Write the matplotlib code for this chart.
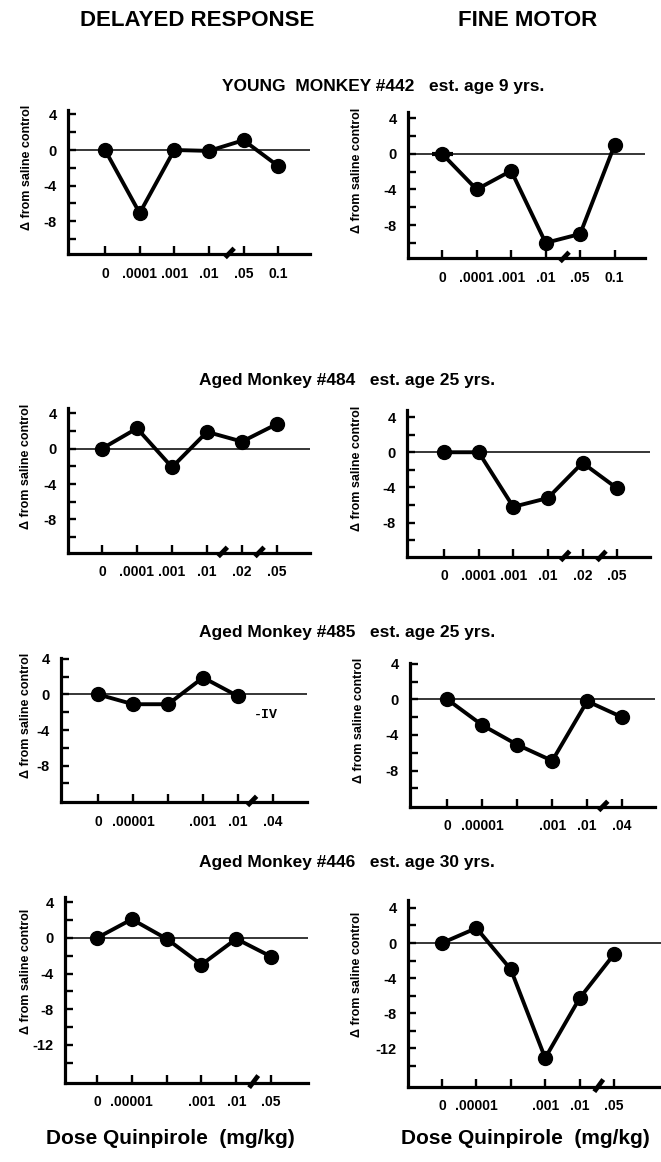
import matplotlib
matplotlib.use("Agg")
import matplotlib.pyplot as plt
import numpy as np
import matplotlib.transforms as mtransforms

plt.rcParams['font.family'] = ['Liberation Sans', 'DejaVu Sans']
plt.rcParams['font.weight'] = 'bold'

# ---------------- data ----------------
labels_442 = ['0', '.0001', '.001', '.01', '.05', '0.1']
labels_484 = ['0', '.0001', '.001', '.01', '.02', '.05']
labels_485 = ['0', '.00001', '', '.001', '.01', '.04']
labels_446 = ['0', '.00001', '', '.001', '.01', '.05']

dr_442 = [0, -7.1, 0, -0.1, 1.1, -1.8]
fm_442 = [0, -4.0, -1.9, -10.0, -9.0, 1.0]
dr_484 = [0, 2.3, -2.1, 1.9, 0.8, 2.8]
fm_484 = [0, 0, -6.2, -5.2, -1.2, -4.1]
dr_485 = [0, -1.1, -1.1, 1.9, -0.2]
fm_485 = [0, -2.9, -5.1, -6.9, -0.2, -2.0]
dr_446 = [0, 2.1, -0.1, -3.0, -0.1, -2.1]
fm_446 = [0, 1.7, -3.0, -13.1, -6.3, -1.3]

group_titles = ['YOUNG  MONKEY #442   est. age 9 yrs.',
                'Aged Monkey #484   est. age 25 yrs.',
                'Aged Monkey #485   est. age 25 yrs.',
                'Aged Monkey #446   est. age 30 yrs.']
col_titles = ['DELAYED RESPONSE', 'FINE MOTOR']
xlabel_text = 'Dose Quinpirole  (mg/kg)'
ylabel_text = '\u0394 from saline control'

W, H = 661, 1162
fig = plt.figure(figsize=(W / 100, H / 100), dpi=100)

def px_axes(left, right, top, bottom):
    return fig.add_axes([left / W, 1 - bottom / H, (right - left) / W, (bottom - top) / H])

# panel specs: (values, labels, box px, xlim, ylim, breaks, ylabel_x_px)
panels = [
    (dr_442, labels_442, (68, 310, 110, 254), (-1.07, 5.92), (-11.7, 4.5), [3.6], 33),
    (fm_442, labels_442, (408, 645, 112, 258), (-0.99, 5.88), (-11.7, 4.7), [3.55], 363),
    (dr_484, labels_484, (68, 310, 408, 553), (-0.97, 5.94), (-11.8, 4.6), [3.45, 4.5], 32),
    (fm_484, labels_484, (407, 650, 410, 557), (-1.07, 5.95), (-11.9, 4.8), [3.5, 4.55], 363),
    (dr_485, labels_485, (61, 307, 658, 802), (-1.06, 5.97), (-12.1, 4.1), [4.4], 32),
    (fm_485, labels_485, (410, 655, 663, 807), (-1.07, 5.94), (-12.1, 4.1), [4.46], 365),
    (dr_446, labels_446, (65, 308, 897, 1083), (-0.92, 6.06), (-16.3, 4.6), [4.5], 32),
    (fm_446, labels_446, (408, 661, 900, 1087), (-0.99, 6.37), (-16.4, 4.9), [4.56], 363),
]

axes = []
for i, (vals, labs, box, xl, yl, breaks, ylx) in enumerate(panels):
    left, right, top, bottom = box
    ax = px_axes(left, right, top, bottom)
    axes.append(ax)
    x = np.arange(len(vals))
    ax.axhline(0, color='black', lw=1.1, zorder=1)
    ax.plot(x, vals, color='black', lw=2.8, marker='o', markersize=10,
            markerfacecolor='black', zorder=3, clip_on=False)
    ax.set_xlim(*xl)
    ax.set_ylim(*yl)
    for s in ['top', 'right']:
        ax.spines[s].set_visible(False)
    for s in ['left', 'bottom']:
        ax.spines[s].set_linewidth(2.3)
    ax.set_xticks(np.arange(len(labs)))
    ax.set_xticklabels(labs, fontsize=10, fontweight='bold')
    lo = int(np.ceil(yl[0] / 2.0)) * 2
    hi = int(np.floor(yl[1] / 2.0)) * 2
    ticks_all = [t for t in range(lo, hi + 1, 2) if t > yl[0] + 0.5]
    major = [t for t in ticks_all if t % 4 == 0]
    minor = [t for t in ticks_all if t % 4 != 0]
    ax.set_yticks(major)
    ax.set_yticks(minor, minor=True)
    ax.set_yticklabels([str(t) for t in major], fontsize=10.5, fontweight='bold')
    ax.tick_params(axis='both', which='both', direction='in', length=6, width=1.7)
    ax.tick_params(axis='x', pad=9)
    ax.tick_params(axis='y', pad=8)
    ax.set_ylabel(ylabel_text, fontsize=9, fontweight='bold')
    ax.yaxis.set_label_coords(-(left - ylx) / (right - left), 0.6)
    trans = mtransforms.blended_transform_factory(ax.transData, ax.transAxes)
    for b in breaks:
        ax.plot([b - 0.13, b + 0.13], [-0.025, 0.04], color='black', lw=3.4,
                transform=trans, clip_on=False, solid_capstyle='butt', zorder=4)

# little horizontal bar at the first point of the young fine-motor panel
axes[1].errorbar([0], [fm_442[0]], xerr=[0.3], fmt='none', ecolor='black',
                 elinewidth=3.0, capsize=0, zorder=3)

# -IV annotation
axes[4].text(4.8, -2.3, '-IV', fontsize=9.5, fontweight='bold',
             family=['Liberation Mono', 'DejaVu Sans Mono'], ha='center', va='center')

# column titles
fig.text(197 / W, 1 - 20 / H, col_titles[0], fontsize=16, fontweight='bold', ha='center', va='center')
fig.text(528 / W, 1 - 20 / H, col_titles[1], fontsize=16, fontweight='bold', ha='center', va='center')

# group titles
title_pos = [(383, 86), (347, 380), (347, 632), (347, 863)]
for t, (tx, ty) in zip(group_titles, title_pos):
    fig.text(tx / W, 1 - ty / H, t, fontsize=12.5, fontweight='bold', ha='center', va='center')

# bottom x labels
fig.text(170 / W, 1 - 1138 / H, xlabel_text, fontsize=15, fontweight='bold', ha='center', va='center')
fig.text(525 / W, 1 - 1138 / H, xlabel_text, fontsize=15, fontweight='bold', ha='center', va='center')

fig.savefig('out.png', dpi=100, facecolor='white')
